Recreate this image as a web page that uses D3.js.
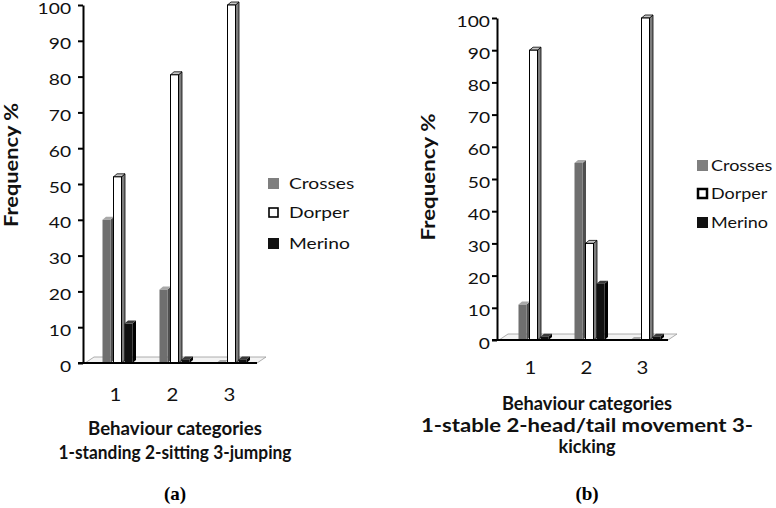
<!DOCTYPE html>
<html><head><meta charset="utf-8">
<script src="https://cdn.jsdelivr.net/npm/d3@7"></script>
<style>body{margin:0;background:#fff}svg{display:block}</style>
</head><body>
<svg id="c" width="776" height="508"></svg>
<script>
// ---------- data ----------
const categories = ["1", "2", "3"];
const seriesNames = ["Crosses", "Dorper", "Merino"];
const yTicks = [0, 10, 20, 30, 40, 50, 60, 70, 80, 90, 100];
const crossesA = [40, 20.5, 0];
const dorperA = [52, 80.5, 100];
const merinoA = [11, 1, 1];
const crossesB = [11, 55, 0];
const dorperB = [90, 30, 100];
const merinoB = [1, 17.5, 1];
const xTitleA = ["Behaviour categories", "1-standing 2-sitting 3-jumping"];
const xTitleB = ["Behaviour categories", "1-stable 2-head/tail  movement 3-", "kicking"];
const yTitle = "Frequency %";
const panelLabels = ["(a)", "(b)"];

// ---------- style ----------
const FONT = "Lato, 'Open Sans', sans-serif";
const colors = {
  Crosses: {front: "#6f6f6f", side: "#4f4f4f", top: "#a8a8a8", stroke: "none"},
  Dorper:  {front: "#ffffff", side: "#7d7d7d", top: "#c8c8c8", stroke: "#000"},
  Merino:  {front: "#111111", side: "#000000", top: "#3a3a3a", stroke: "none"}
};
const legendFill = {Crosses: "#7f7f7f", Dorper: "#fff", Merino: "#111"};

const svg = d3.select("#c");

const panels = [
  {series: [crossesA, dorperA, merinoA], axisX: 83, y0: 363, y100: 5, xEnd: 257,
   xRange: [118, 232], labelShift: -3, labelY: 401, tickGap: 12,
   titleLines: xTitleA, titleX: 175, titleY: [435, 459], titleW: [174, 233],
   yTitleX: 10, yTitleY: 165, yTitleW: 124,
   legendX: 268, legendY: [183, 212, 243], legendText: 289, legendFont: 16,
   panelY: 500},
  {series: [crossesB, dorperB, merinoB], axisX: 497, y0: 340, y100: 18, xEnd: 668,
   xRange: [534, 646], labelShift: -4, labelY: 374, tickGap: 7,
   titleLines: xTitleB, titleX: 587, titleY: [410, 432, 453], titleW: [170, 332, 57],
   yTitleX: 427, yTitleY: 177, yTitleW: 127,
   legendX: 697, legendY: [165, 193, 222], legendText: 711, legendFont: 15,
   panelY: 500}
];

const SX = 1.2;          // horizontal text stretch of the original
const slot = 11, bw = 8, ddx = 3.5, ddy = 3;
const fdx = 9, fdy = 6;

panels.forEach((p, pi) => {
  const g = svg.append("g");
  const y = d3.scaleLinear().domain([0, 100]).range([p.y0, p.y100]);
  const x = d3.scalePoint().domain(categories).range(p.xRange);

  // floor
  g.append("polygon")
    .attr("points", [[p.axisX + 2, p.y0], [p.axisX + 2 + fdx, p.y0 - fdy], [p.xEnd + fdx, p.y0 - fdy], [p.xEnd, p.y0]].map(d => d.join(",")).join(" "))
    .attr("fill", "#f3f3f3").attr("stroke", "#9a9a9a").attr("stroke-width", 0.8);

  // bars
  categories.forEach((c, ci) => {
    seriesNames.forEach((s, si) => {
      const v = p.series[si][ci];
      const col = colors[s];
      const x0 = x(c) + (si - 1.5) * slot + 1;
      const yt = y(v), yb = p.y0;
      const bg = g.append("g");
      bg.append("polygon")
        .attr("points", [[x0 + bw, yb], [x0 + bw + ddx, yb - ddy], [x0 + bw + ddx, yt - ddy], [x0 + bw, yt]].map(d => d.join(",")).join(" "))
        .attr("fill", col.side).attr("stroke", s === "Dorper" ? "#000" : "none").attr("stroke-width", 0.8);
      bg.append("polygon")
        .attr("points", [[x0, yt], [x0 + ddx, yt - ddy], [x0 + bw + ddx, yt - ddy], [x0 + bw, yt]].map(d => d.join(",")).join(" "))
        .attr("fill", col.top).attr("stroke", s === "Dorper" ? "#000" : "none").attr("stroke-width", 0.8);
      bg.append("rect")
        .attr("x", x0).attr("y", yt).attr("width", bw).attr("height", Math.max(0, yb - yt))
        .attr("fill", col.front).attr("stroke", col.stroke).attr("stroke-width", 1);
    });
  });

  // y axis
  const ya = g.append("g").attr("transform", `translate(${p.axisX},0)`)
    .call(d3.axisLeft(y).tickValues(yTicks).tickSize(5).tickPadding(p.tickGap - 5).tickSizeOuter(0));
  ya.select(".domain").attr("stroke", "#000").attr("stroke-width", 2);
  ya.selectAll(".tick line").attr("stroke", "#000").attr("stroke-width", 2);
  ya.selectAll(".tick text").attr("font-family", FONT).attr("font-size", 16).attr("fill", "#111")
    .attr("transform", `translate(0,3) scale(${SX},1)`).attr("x", -p.tickGap / SX);

  // base line
  g.append("line").attr("x1", p.axisX - 5).attr("x2", p.xEnd).attr("y1", p.y0).attr("y2", p.y0)
    .attr("stroke", "#000").attr("stroke-width", 2);

  // category labels
  const xa = g.append("g").attr("transform", `translate(${p.labelShift},${p.labelY})`)
    .call(d3.axisBottom(x).tickSize(0).tickPadding(0));
  xa.select(".domain").remove();
  xa.selectAll(".tick text").attr("font-family", FONT).attr("font-size", 17).attr("fill", "#111")
    .attr("dy", 0).attr("y", 0).attr("transform", `scale(${SX},1)`);

  // x title
  p.titleLines.forEach((t, i) => {
    g.append("text").attr("x", p.titleX).attr("y", p.titleY[i]).attr("text-anchor", "middle")
      .attr("font-family", FONT).attr("font-weight", "bold").attr("font-size", 18).attr("fill", "#111")
      .attr("textLength", p.titleW[i]).attr("lengthAdjust", "spacingAndGlyphs").text(t);
  });

  // y title
  g.append("text").attr("transform", `translate(${p.yTitleX},${p.yTitleY}) rotate(-90)`)
    .attr("text-anchor", "middle").attr("dominant-baseline", "central")
    .attr("font-family", FONT).attr("font-weight", "bold").attr("font-size", 19).attr("fill", "#111")
    .attr("textLength", p.yTitleW).attr("lengthAdjust", "spacingAndGlyphs").text(yTitle);

  // legend
  seriesNames.forEach((s, i) => {
    const ly = p.legendY[i];
    if (s === "Dorper") {
      g.append("rect").attr("x", p.legendX + 1).attr("y", ly - 4).attr("width", 9).attr("height", 9)
        .attr("fill", "#fff").attr("stroke", "#000").attr("stroke-width", pi === 1 ? 2.5 : 1.6);
    } else {
      g.append("rect").attr("x", p.legendX).attr("y", ly - 5).attr("width", 11).attr("height", 11)
        .attr("fill", legendFill[s]);
    }
    g.append("text").attr("transform", `translate(${p.legendText},${ly + 6}) scale(${SX},1)`)
      .attr("font-family", FONT).attr("font-size", p.legendFont).attr("fill", "#111").text(s);
  });

  // panel label
  g.append("text").attr("x", p.titleX).attr("y", p.panelY).attr("text-anchor", "middle")
    .attr("font-family", "'Liberation Serif', 'Times New Roman', serif").attr("font-weight", "bold")
    .attr("font-size", 19).attr("fill", "#000").text(panelLabels[pi]);
});
</script>
</body></html>
